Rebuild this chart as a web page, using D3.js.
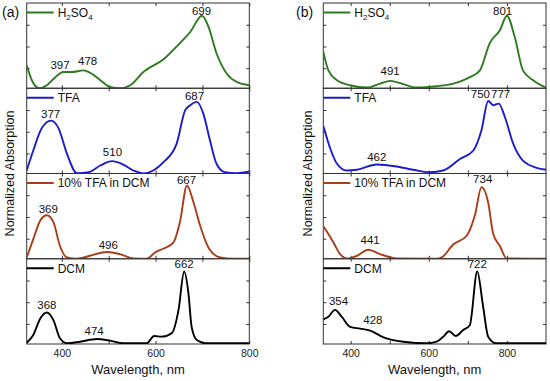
<!DOCTYPE html>
<html><head><meta charset="utf-8">
<script src="https://cdn.jsdelivr.net/npm/d3@7"></script>
<style>body{margin:0;background:#fff}svg{font-family:Arial,"Liberation Sans",sans-serif}</style>
</head><body>
<svg id="c" width="550" height="381"></svg>
<script>
// ---- Data ----
const seriesNames = ["H2SO4", "TFA", "10% TFA in DCM", "DCM"];
const seriesColors = ["#2e7a1f", "#1c1cc8", "#a83d18", "#000000"];
const xTicks = [400, 600, 800];
const xMinor = [400, 500, 600, 700, 800];
const yTickVals = [0.235, 0.49, 0.745];

// Panel (a)
const aH2SO4 = [[325,0.27],[336,0.094],[352,0],[368,0.035],[386,0.13],[403,0.19],[421,0.19],[446,0.21],[464,0.17],[482,0.094],[503,0.015],[524,0],[546,0.035],[574,0.19],[617,0.34],[652,0.53],[674,0.66],[699,0.85],[713,0.72],[730,0.41],[752,0.17],[773,0.074],[800,0.035]];
const aTFA = [[325,0.035],[339,0.27],[357,0.53],[377,0.62],[393,0.53],[411,0.23],[432,0.004],[457,0.015],[482,0.094],[507,0.145],[528,0.114],[553,0.035],[574,0],[595,0.035],[617,0.133],[645,0.35],[663,0.74],[674,0.8],[688,0.84],[702,0.70],[716,0.39],[730,0.114],[748,0.015],[773,0.004],[800,0.024]];
const aMix = [[325,0.015],[339,0.23],[354,0.45],[368,0.51],[382,0.43],[396,0.15],[411,0.015],[432,0],[460,0.035],[496,0.08],[524,0.055],[553,0.004],[581,0],[599,0.074],[617,0.12],[638,0.19],[652,0.43],[667,0.86],[681,0.66],[695,0.39],[713,0.13],[738,0.015],[766,0],[800,0]];
const aDCM = [[325,0.015],[339,0.106],[354,0.30],[368,0.37],[382,0.28],[396,0.067],[411,0.008],[439,0.027],[475,0.059],[503,0.039],[531,0.008],[581,0.008],[597,0.094],[613,0.086],[635,0.13],[649,0.40],[661,0.85],[670,0.60],[677,0.20],[688,0.047],[709,0.008],[800,0.008]];

// Panel (b)
const bH2SO4 = [[330,0.43],[343,0.21],[365,0.094],[399,0.035],[441,0.008],[475,0.055],[501,0.086],[531,0.055],[569,0.008],[620,0.024],[663,0.055],[705,0.13],[731,0.21],[756,0.53],[782,0.68],[800,0.85],[820,0.60],[841,0.21],[867,0.094],[900,0.008]];
const bTFA = [[330,0.56],[348,0.29],[365,0.114],[390,0.035],[416,0.044],[467,0.106],[518,0.082],[560,0.044],[603,0.015],[637,0.035],[680,0.17],[714,0.27],[735,0.51],[752,0.85],[765,0.80],[779,0.82],[795,0.66],[816,0.35],[841,0.15],[876,0.067],[900,0.044]];
const bMix = [[330,0.38],[343,0.29],[356,0.19],[373,0.055],[390,0.004],[416,0.035],[445,0.106],[475,0.055],[518,0.004],[620,0],[633,0.015],[663,0.17],[697,0.27],[718,0.51],[735,0.84],[752,0.66],[765,0.29],[782,0.15],[799,0.004],[900,0]];
const bDCM = [[330,0.29],[343,0.32],[360,0.40],[377,0.32],[399,0.20],[424,0.18],[450,0.157],[484,0.079],[535,0.027],[595,0.008],[620,0.027],[637,0.086],[652,0.15],[669,0.094],[688,0.165],[705,0.22],[724,0.85],[739,0.44],[752,0.086],[773,0.008],[900,0.008]];

// Peak labels [text, wavelength anchor, value anchor]
const aLabels = [
  [["397",396,0.23],["478",455,0.27],["699",698,0.865]],
  [["377",376,0.655],["510",508,0.2],["687",683,0.865]],
  [["369",371,0.54],["496",499,0.114],["667",666,0.88]],
  [["368",368,0.41],["474",469,0.106],["662",661,0.89]]
];
const bLabels = [
  [["491",501,0.153],["801",789,0.86]],
  [["462",467,0.145],["750",732,0.88],["777",784,0.88]],
  [["441",450,0.173],["734",738,0.89]],
  [["354",369,0.46],["428",457,0.24],["722",724,0.89]]
];

const panels = [
  {tag:"(a)", tagX:2, left:26.7, right:249.3, domain:[325,800], ylabX:10, series:[aH2SO4,aTFA,aMix,aDCM], labels:aLabels},
  {tag:"(b)", tagX:296, left:323.3, right:546, domain:[330,900], ylabX:308, series:[bH2SO4,bTFA,bMix,bDCM], labels:bLabels}
];

// ---- Drawing ----
const svg = d3.select("#c");
const plotTop = 3, plotBottom = 344;
const subH = (plotBottom - plotTop) / 4;

panels.forEach(p => {
  const x = d3.scaleLinear().domain(p.domain).range([p.left, p.right]);
  const g = svg.append("g");
  p.series.forEach((data, i) => {
    const y0 = plotTop + subH * (i + 1);
    const y = d3.scaleLinear().domain([0, 1]).range([y0, y0 - subH]);
    const sg = g.append("g");
    const cid = "clip" + p.tag.replace(/\W/g,"") + i;
    svg.append("clipPath").attr("id", cid).append("rect")
      .attr("x", p.left).attr("y", y0 - subH).attr("width", p.right - p.left).attr("height", subH);
    sg.append("rect").attr("x", p.left).attr("y", y0 - subH).attr("width", p.right - p.left).attr("height", subH)
      .attr("fill", "none").attr("stroke", "#333").attr("stroke-width", 1);
    const styleAx = a => { a.select(".domain").remove(); a.selectAll("line").attr("stroke","#333"); };
    sg.append("g").attr("transform", `translate(0,${y0})`).call(d3.axisTop(x).tickValues(xMinor).tickSize(3).tickFormat("")).call(styleAx);
    sg.append("g").attr("transform", `translate(0,${y0 - subH})`).call(d3.axisBottom(x).tickValues(xMinor).tickSize(3).tickFormat("")).call(styleAx);
    sg.append("g").attr("transform", `translate(${p.left},0)`).call(d3.axisRight(y).tickValues(yTickVals).tickSize(3).tickFormat("")).call(styleAx);
    sg.append("g").attr("transform", `translate(${p.right},0)`).call(d3.axisLeft(y).tickValues(yTickVals).tickSize(3).tickFormat("")).call(styleAx);
    const line = d3.line().x(d => x(d[0])).y(d => y(d[1])).curve(d3.curveMonotoneX);
    sg.append("path").datum(data).attr("d", line).attr("fill", "none")
      .attr("stroke", seriesColors[i]).attr("stroke-width", 1.9).attr("clip-path", `url(#${cid})`);
    const ly = y0 - subH + 9.5;
    sg.append("line").attr("x1", p.left).attr("x2", p.left + 27).attr("y1", ly).attr("y2", ly)
      .attr("stroke", seriesColors[i]).attr("stroke-width", 2);
    const t = sg.append("text").attr("x", p.left + 31).attr("y", ly + 4.3).attr("font-size", 12).attr("fill", "#111");
    if (seriesNames[i] === "H2SO4") {
      t.append("tspan").text("H");
      t.append("tspan").text("2").attr("font-size", 8).attr("dy", 3);
      t.append("tspan").text("SO").attr("dy", -3);
      t.append("tspan").text("4").attr("font-size", 8).attr("dy", 3);
    } else {
      t.text(seriesNames[i]);
    }
    p.labels[i].forEach(l => {
      sg.append("text").attr("x", x(l[1])).attr("y", y(l[2])).attr("text-anchor", "middle")
        .attr("font-size", 11.5).attr("fill", "#111").text(l[0]);
    });
    if (i === 3) {
      sg.append("g").attr("transform", `translate(0,${y0})`)
        .call(d3.axisBottom(x).tickValues(xTicks).tickSize(0).tickPadding(6))
        .call(a => { a.select(".domain").remove(); a.selectAll("text").attr("font-size", 10.5).attr("fill", "#222").attr("font-family", "Arial, Liberation Sans, sans-serif"); });
    }
  });
  svg.append("text").attr("x", (p.left + p.right) / 2).attr("y", 374).attr("text-anchor", "middle")
    .attr("font-size", 13).attr("fill", "#111").text("Wavelength, nm");
  svg.append("text").attr("transform", `translate(${p.ylabX + 4},${(plotTop + plotBottom) / 2}) rotate(-90)`)
    .attr("text-anchor", "middle").attr("font-size", 12.5).attr("fill", "#111").text("Normalized Absorption");
  svg.append("text").attr("x", p.tagX).attr("y", 17).attr("font-size", 14).attr("fill", "#111").text(p.tag);
});
</script>
</body></html>
